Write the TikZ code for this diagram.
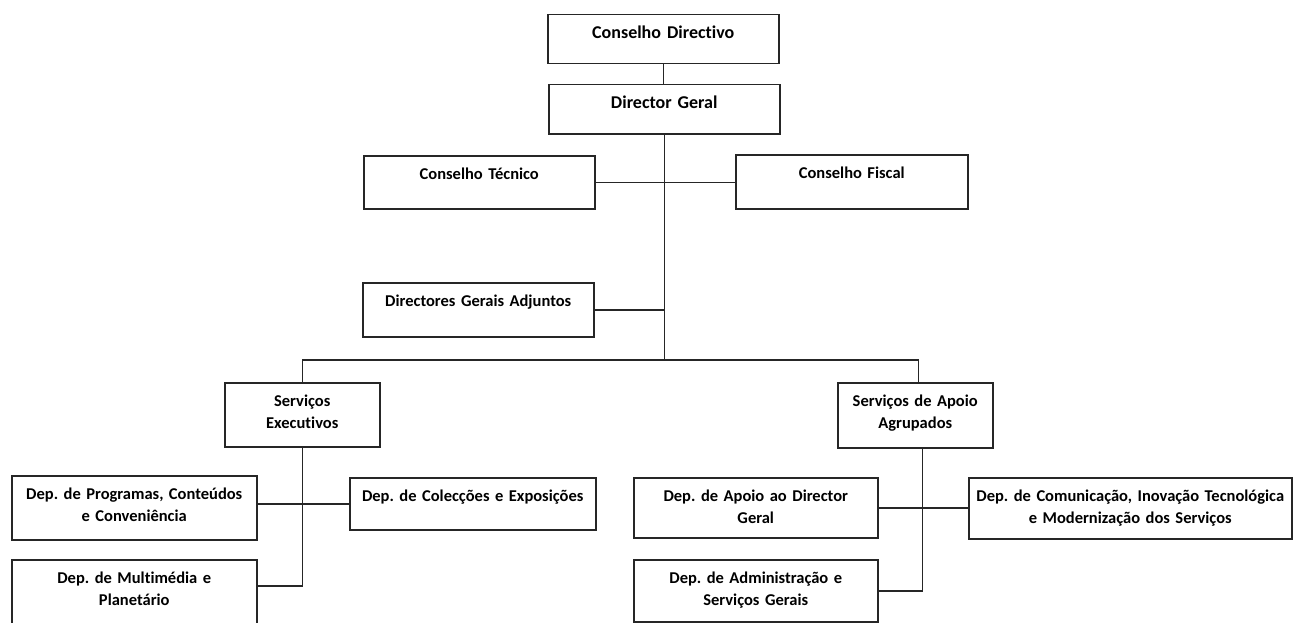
\documentclass[tikz,border=0pt]{standalone}
\usepackage{fontspec}
\setmainfont{Carlito}[Ligatures=NoCommon]
\frenchspacing
\usetikzlibrary{positioning,calc}
\tikzset{
  orgbox/.style 2 args={
    draw=black!85,
    line width=1.5pt,
    anchor=north west,
    align=center,
    text width=#1,
    text height=24pt,
    text depth=#2,
    inner xsep=0pt,
    inner ysep=0pt,
    font=\bfseries\fontsize{16.5}{22}\selectfont
  },
  topbox/.style 2 args={orgbox={#1}{#2},font=\bfseries\fontsize{18}{22}\selectfont},
  orgline/.style={draw=black!85,line width=1.5pt}
}
\begin{document}
\begin{tikzpicture}[x=1pt,y=-1pt]
  \useasboundingbox (0,0) rectangle (1297,623);
  % top of the chart
  \node[topbox={231pt}{25pt}] (cd) at (547,14) {Conselho Directivo};
  \node[topbox={231pt}{25pt}] (dg) at (548,84) {Director Geral};
  \node[orgbox={231pt}{29pt}] (ct) at (363,155) {Conselho Técnico};
  \node[orgbox={232pt}{30pt}] (cf) at (735,154) {Conselho Fiscal};
  \node[orgbox={231pt}{30pt}] (dga) at (362,282) {Directores Gerais Adjuntos};
  \coordinate (bar) at (0,360);
  % services
  \node[orgbox={155pt}{40pt}] (se) at (224,382) {Serviços\\Executivos};
  \node[orgbox={155pt}{41pt}] (sa) at (837,382) {Serviços de Apoio\\Agrupados};
  \coordinate (sain) at ($(sa.north)+(3,0)$);
  \coordinate (saout) at ($(sa.south)+(7,0)$);
  % departments
  \node[orgbox={245pt}{40pt}] (dpc) at (11,475) {Dep. de Programas, Conteúdos\\e Conveniência};
  \node[orgbox={246pt}{28pt}] (dce) at (349,477) {Dep. de Colecções e Exposições};
  \node[orgbox={245pt}{50pt}] (dmp) at (11,559) {Dep. de Multimédia e\\Planetário};
  \node[orgbox={244pt}{36pt}] (dad) at (633,477) {Dep. de Apoio ao Director\\Geral};
  \node[orgbox={323pt}{37pt}] (dcm) at (968,477) {Dep. de Comunicação, Inovação Tecnológica\\e Modernização dos Serviços};
  \node[orgbox={244pt}{38pt}] (das) at (633,559) {Dep. de Administração e\\Serviços Gerais};
  \coordinate (dmpin) at ($(dmp.north east)+(0,27)$);

  \draw[orgline] (cd.south) -- (cd.south |- dg.north);
  \draw[orgline] (dg.south) -- (dg.south |- bar);
  \draw[orgline] (ct.east) -- (ct.east -| cf.west);
  \draw[orgline] (dga.east) -- (dga.east -| dg.south);
  \draw[orgline] (se.north) |- (sain |- bar) -- (sain);
  \draw[orgline] (se.south) |- (dmpin);
  \draw[orgline] (dce.west -| dpc.east) -- (dce.west);
  \draw[orgline] (saout) |- (das.east);
  \draw[orgline] (dad.east) -- (dad.east -| dcm.west);
\end{tikzpicture}
\end{document}
